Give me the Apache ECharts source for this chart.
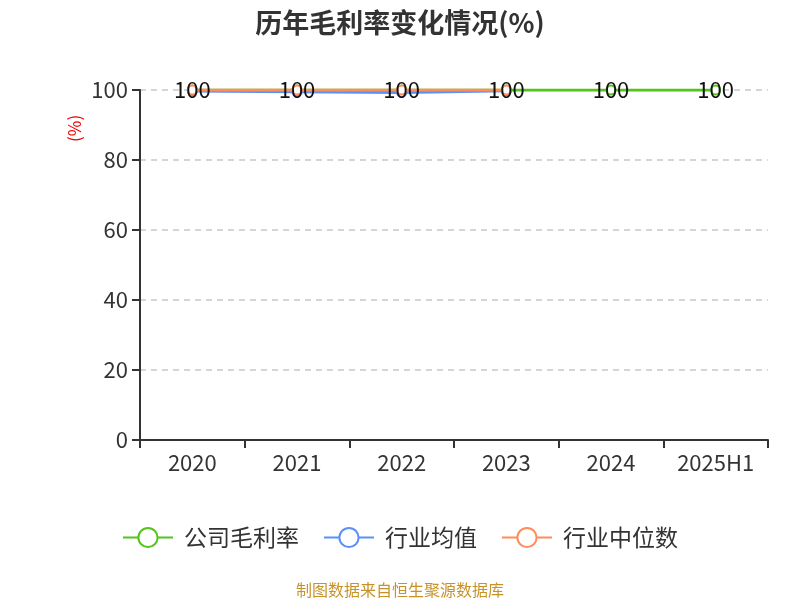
<!DOCTYPE html>
<html>
<head>
<meta charset="utf-8">
<script src="https://cdn.jsdelivr.net/npm/echarts@6/dist/echarts.min.js"></script>
<style>
  html, body { margin: 0; padding: 0; background: #fff; }
  #main { width: 800px; height: 600px; }
</style>
</head>
<body>
<div id="main"></div>
<script>
var years = ['2020', '2021', '2022', '2023', '2024', '2025H1'];
var gongsi = [100, 100, 100, 100, 100, 100];
var hangyeJunzhi = [99.7, 99.5, 99.3, 99.8, null, null];
var hangyeZhongwei = [100, 100, 100, 100, null, null];
var yTicks = [0, 20, 40, 60, 80, 100];

var font = '"Noto Sans CJK SC", "Microsoft YaHei", sans-serif';
var dom = document.getElementById('main');
var myChart = echarts.init(dom, null, { renderer: 'canvas' });

var option = {
  textStyle: { fontFamily: font },
  title: {
    text: '历年毛利率变化情况(%)',
    left: 'center',
    top: 4,
    textStyle: { fontSize: 27, fontWeight: 'bold', color: '#333', fontFamily: font }
  },
  grid: { left: 140, right: 32, top: 90, bottom: 160 },
  legend: {
    bottom: 46,
    itemWidth: 50,
    itemHeight: 24,
    itemGap: 24,
    textStyle: { fontSize: 23, color: '#333', fontFamily: font, padding: [0, 0, 0, 6] },
    data: ['公司毛利率', '行业均值', '行业中位数']
  },
  graphic: [
    {
      type: 'text',
      left: 'center',
      bottom: 2,
      style: { text: '制图数据来自恒生聚源数据库', fill: '#c8922a', fontSize: 16, fontFamily: font }
    },
    {
      type: 'text',
      x: 66,
      y: 142,
      rotation: Math.PI / 2,
      style: { text: '(%)', fill: '#e00', fontSize: 17, fontFamily: font }
    }
  ],
  xAxis: {
    type: 'category',
    data: years,
    boundaryGap: true,
    axisLine: { lineStyle: { color: '#333', width: 2 } },
    axisTick: { show: true, length: 8, lineStyle: { color: '#333', width: 2 } },
    axisLabel: { fontSize: 22, color: '#333', margin: 12 }
  },
  yAxis: {
    type: 'value',
    min: 0,
    max: 100,
    interval: 20,
    axisLine: { show: true, lineStyle: { color: '#333', width: 2 } },
    axisTick: { show: true, length: 8, lineStyle: { color: '#333', width: 2 } },
    axisLabel: {
      fontSize: 22, color: '#333', margin: 12,
      formatter: function (v) { return yTicks.indexOf(v) >= 0 ? String(v) : ''; }
    },
    splitLine: { lineStyle: { type: [6, 5], color: '#c8c8c8', width: 1.5 } }
  },
  series: [
    {
      name: '公司毛利率',
      type: 'line',
      data: gongsi,
      z: 2,
      color: '#52c41a',
      symbol: 'emptyCircle',
      symbolSize: 9,
      lineStyle: { width: 3 }
    },
    {
      name: '行业均值',
      type: 'line',
      data: hangyeJunzhi,
      z: 3,
      color: '#5b8ff9',
      symbol: 'emptyCircle',
      symbolSize: 9,
      lineStyle: { width: 3 }
    },
    {
      name: '行业中位数',
      type: 'line',
      data: hangyeZhongwei,
      z: 4,
      color: '#ff8c5a',
      symbol: 'emptyCircle',
      symbolSize: 9,
      lineStyle: { width: 3 }
    },
    {
      // label layer for the company series, drawn above all lines
      name: '公司毛利率标签',
      type: 'line',
      data: gongsi,
      z: 10,
      symbol: 'circle',
      symbolSize: 2,
      silent: true,
      itemStyle: { color: 'rgba(0,0,0,0)' },
      lineStyle: { opacity: 0 },
      label: { show: true, position: 'inside', fontSize: 22, color: '#111' }
    }
  ]
};

myChart.setOption(option);
window.addEventListener('resize', myChart.resize);
</script>
</body>
</html>
